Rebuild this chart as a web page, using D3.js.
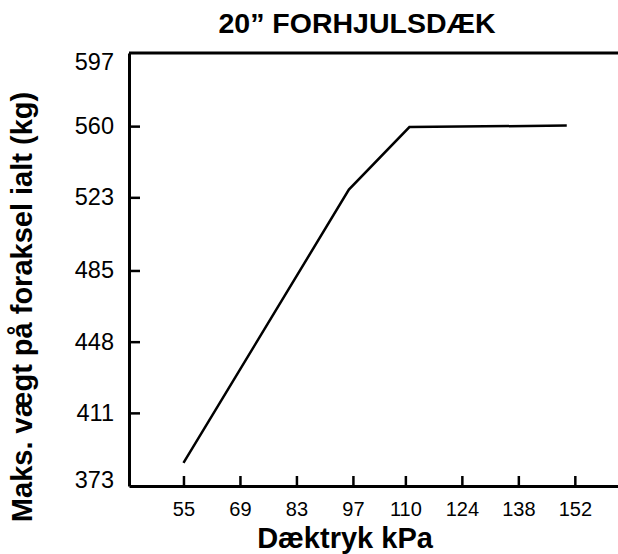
<!DOCTYPE html>
<html>
<head>
<meta charset="utf-8">
<script src="https://cdn.jsdelivr.net/npm/d3@7"></script>
<style>
  body { margin: 0; background: #fff; }
  text { font-family: "Liberation Sans", Arial, Helvetica, sans-serif; fill: #000; }
</style>
</head>
<body>
<div id="chart"></div>
<script>
// data
const pressure = [55, 96, 111, 150];          // kPa
const maxLoad = [385, 527, 559.5, 560.3];     // kg
const xTicks = [55, 69, 83, 97, 110, 124, 138, 152];
const yTicks = [373, 411, 448, 485, 523, 560, 597];
const title = "20\u201D FORHJULSDÆK";
const xTitle = "Dæktryk kPa";
const yTitle = "Maks. vægt på foraksel ialt (kg)";

const width = 618;
const height = 554;
const margin = { top: 53, left: 129, bottom: 68, right: 0 };
const iwidth = width - margin.left - margin.right;
const iheight = height - margin.top - margin.bottom;

const svg = d3.select("#chart").append("svg")
    .attr("width", width)
    .attr("height", height);

const g = svg.append("g").attr("transform", `translate(${margin.left},${margin.top})`);

const x = d3.scaleLinear()
    .domain([41.5, 162.7])
    .range([0, iwidth]);

const y = d3.scaleLinear()
    .domain([373, 598])
    .range([iheight, 0]);

// x axis, ticks pointing inward
const gx = g.append("g")
    .attr("transform", `translate(0,${iheight})`)
    .call(d3.axisBottom(x).tickValues(xTicks).tickSizeInner(-10).tickSizeOuter(0).tickPadding(16));
gx.select(".domain").attr("stroke-width", 3);
gx.selectAll(".tick line").attr("stroke-width", 2.5);
gx.selectAll(".tick text").style("font-size", "20px").attr("font-family", null);

// y axis, ticks pointing inward
const gy = g.append("g")
    .call(d3.axisLeft(y).tickValues(yTicks).tickSizeInner(-11).tickSizeOuter(0).tickPadding(15));
gy.select(".domain").attr("stroke-width", 3);
gy.selectAll(".tick line").attr("stroke-width", 2.5)
    .filter(d => d === yTicks[0] || d === yTicks[yTicks.length - 1]).remove();
gy.selectAll(".tick text").style("font-size", "23.5px").attr("font-family", null);
// end labels sit a little inside the frame in the original
gy.selectAll(".tick text").filter(d => d === yTicks[0]).attr("y", -6);
gy.selectAll(".tick text").filter(d => d === yTicks[yTicks.length - 1]).attr("y", 7);

// top border
g.append("line")
    .attr("x1", 0).attr("x2", iwidth)
    .attr("y1", 0).attr("y2", 0)
    .attr("stroke", "#000")
    .attr("stroke-width", 3);

// the curve
const line = d3.line()
    .x((d, i) => x(pressure[i]))
    .y(d => y(d));

g.append("path")
    .datum(maxLoad)
    .attr("fill", "none")
    .attr("stroke", "#000")
    .attr("stroke-width", 2.5)
    .attr("stroke-linejoin", "miter")
    .attr("d", line);

// titles
svg.append("text")
    .attr("x", 357)
    .attr("y", 33)
    .attr("text-anchor", "middle")
    .style("font-size", "28.5px")
    .style("font-weight", "bold")
    .text(title);

svg.append("text")
    .attr("x", 345)
    .attr("y", 548)
    .attr("text-anchor", "middle")
    .style("font-size", "29px")
    .style("font-weight", "bold")
    .text(xTitle);

svg.append("text")
    .attr("transform", "translate(32,307) rotate(-90)")
    .attr("text-anchor", "middle")
    .style("font-size", "29px")
    .style("font-weight", "bold")
    .text(yTitle);
</script>
</body>
</html>
